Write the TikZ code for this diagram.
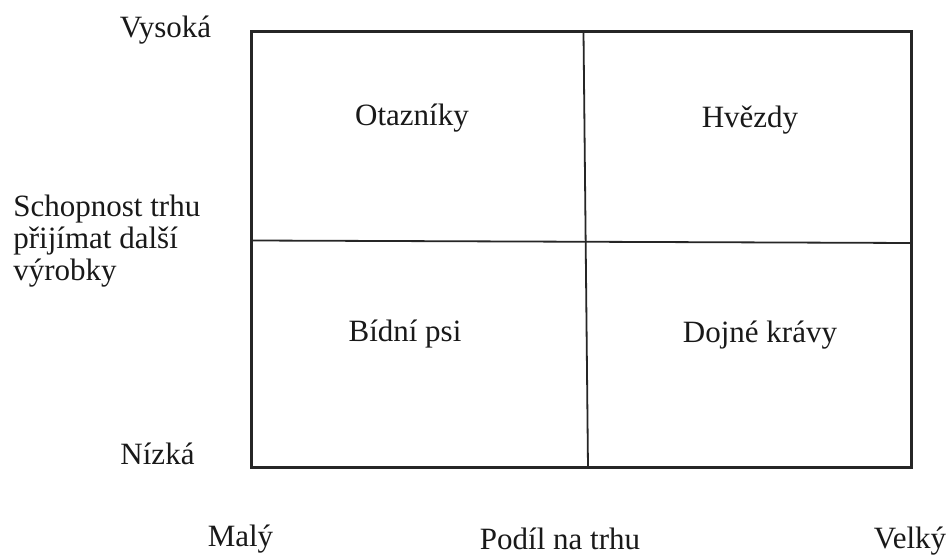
\documentclass[tikz,border=0pt]{standalone}
\usepackage{fontspec}
\setmainfont{Liberation Serif}
\begin{document}
\begin{tikzpicture}[x=0.5pt,y=-0.5pt,
  lbl/.style={inner sep=0pt,font=\fontsize{15.5}{15}\selectfont,text=black!90},
  frame/.style={draw=black!85,line width=1.5pt},
  divider/.style={draw=black!85,line width=0.9pt}]
\useasboundingbox[fill=white] (0,0) rectangle (950,555);
% frame corners
\coordinate (tl) at (251.5,31.5);
\coordinate (br) at (911.5,467.5);
\coordinate (vtop) at (583.5,31.5);
\coordinate (vbot) at (588,467.5);
\coordinate (hleft) at (251.5,240.5);
\coordinate (hright) at (911.5,243);
\draw[divider] (vtop) -- (vbot);
\draw[divider] (hleft) -- (hright);
\draw[frame] (tl) rectangle (br);
% quadrant labels
\node[lbl,anchor=base] (q1) at (412,126) {Otazníky};
\node[lbl,anchor=base] (q2) at (750,128) {Hvězdy};
\node[lbl,anchor=base] (q3) at (405,342) {Bídní psi};
\node[lbl,anchor=base] (q4) at (760,343) {Dojné krávy};
% axis labels
\node[lbl,anchor=base] (high) at (165.5,38) {Vysoká};
\node[lbl,anchor=base] (low) at (157.5,465) {Nízká};
\node[lbl,anchor=base west] (yaxis1) at (13,217) {Schopnost trhu};
\node[lbl,anchor=base west] (yaxis2) at (13,249) {přijímat další};
\node[lbl,anchor=base west] (yaxis3) at (13,281) {výrobky};
\node[lbl,anchor=base] (small) at (240.5,547) {Malý};
\node[lbl,anchor=base] (xaxis) at (560,550) {Podíl na trhu};
\node[lbl,anchor=base] (big) at (910,549) {Velký};
\end{tikzpicture}
\end{document}
